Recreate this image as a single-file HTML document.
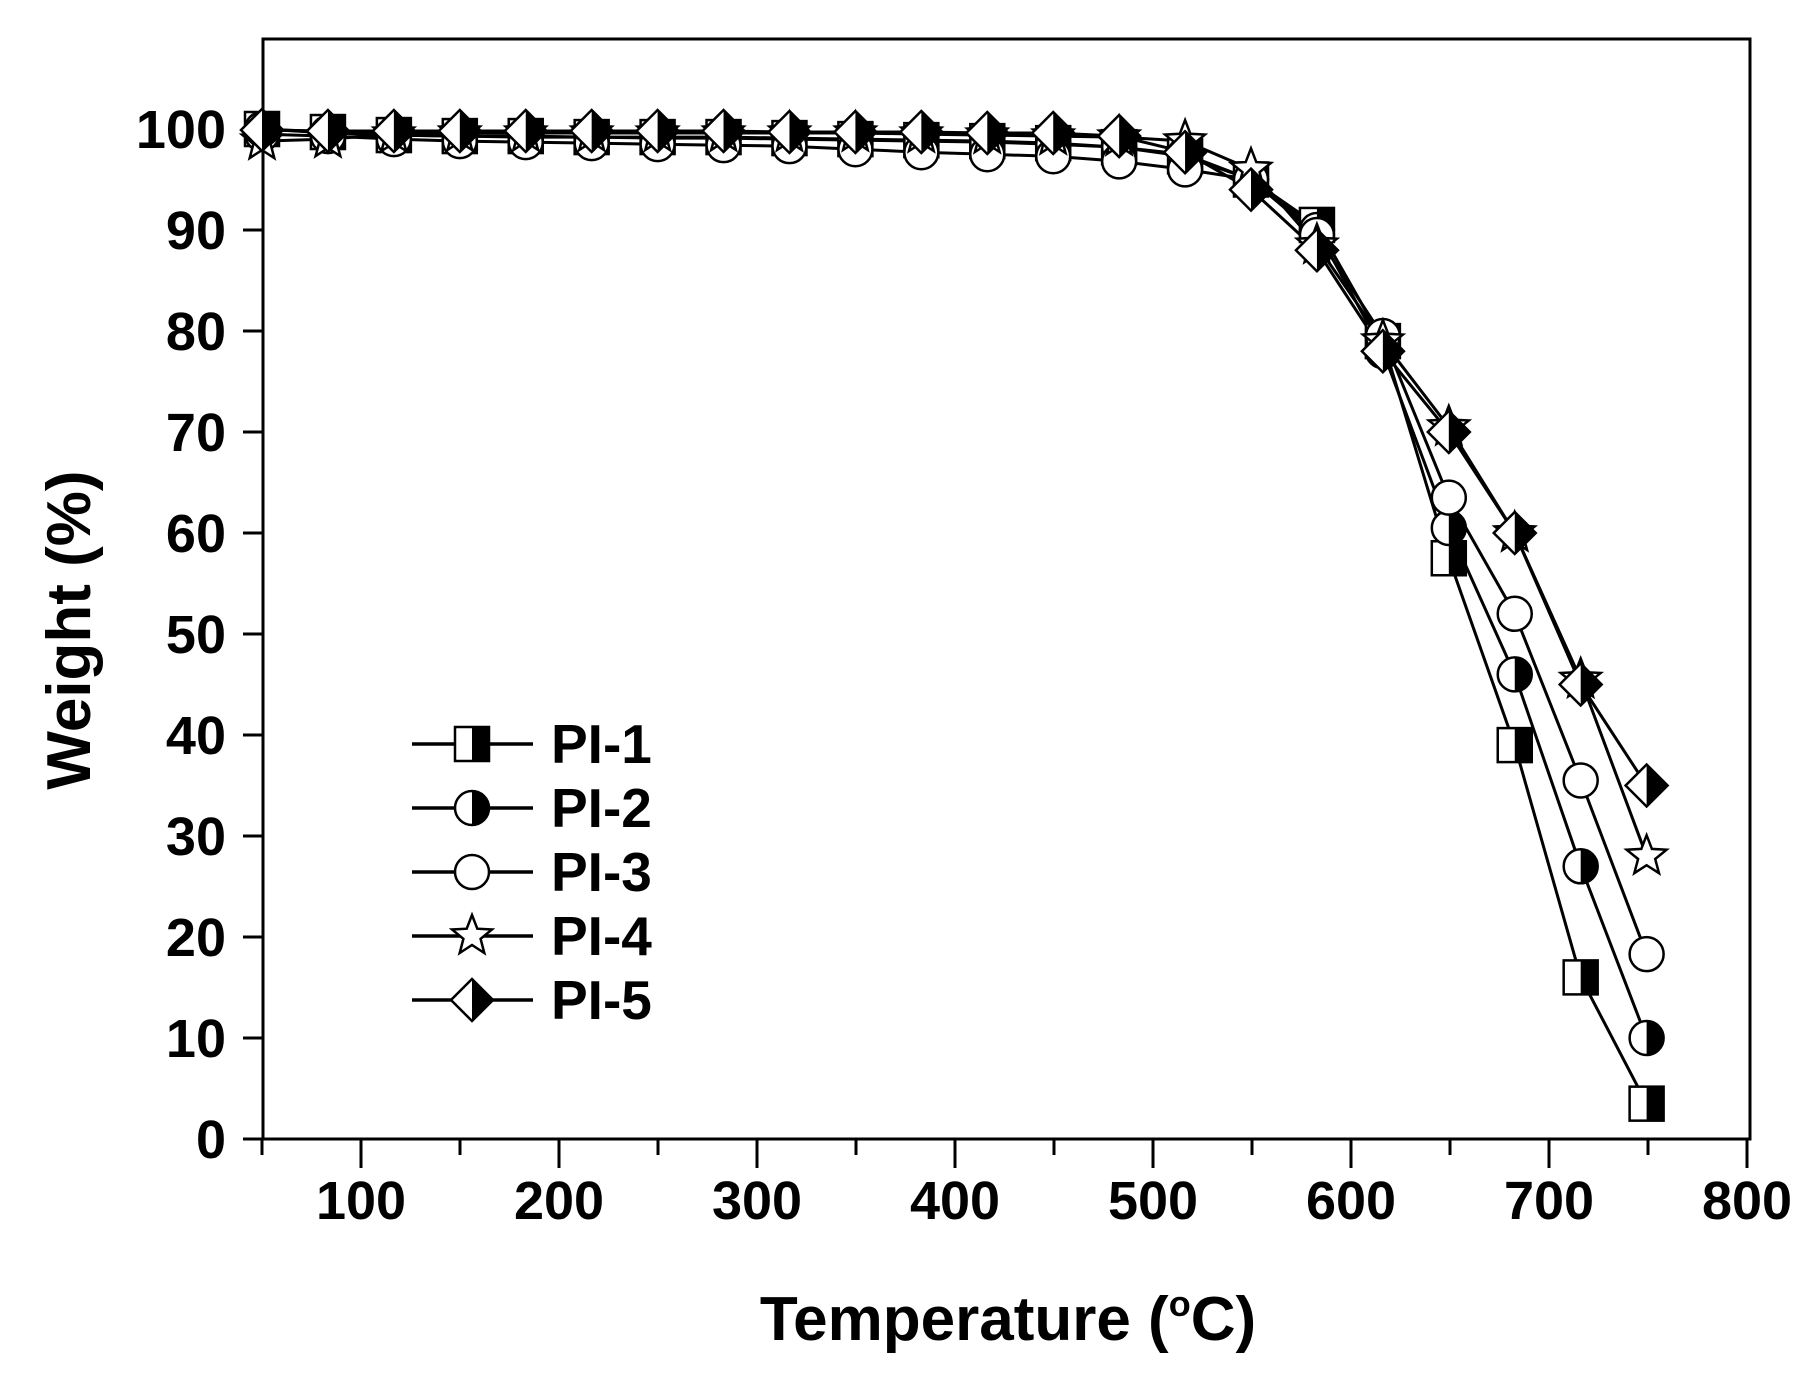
<!DOCTYPE html>
<html><head><meta charset="utf-8"><style>
html,body{margin:0;padding:0;background:#fff;}
svg{display:block;}
text{font-family:"Liberation Sans",Arial,sans-serif;font-weight:bold;fill:#000;}
</style></head><body>
<svg id="s" width="1818" height="1382" viewBox="0 0 1818 1382" xmlns="http://www.w3.org/2000/svg">
<rect x="0" y="0" width="1818" height="1382" fill="#fff"/>
<rect x="263" y="39" width="1487" height="1100" fill="none" stroke="#000" stroke-width="3"/>
<g stroke="#000" stroke-width="3" id="ticks"></g>
<g font-size="54" text-anchor="end">
<text x="226" y="148">100</text><text x="226" y="249">90</text><text x="226" y="350">80</text>
<text x="226" y="451">70</text><text x="226" y="552">60</text><text x="226" y="653">50</text>
<text x="226" y="754">40</text><text x="226" y="855">30</text><text x="226" y="956">20</text>
<text x="226" y="1057">10</text><text x="226" y="1158">0</text>
</g>
<g font-size="54" text-anchor="middle">
<text x="361" y="1219">100</text><text x="559" y="1219">200</text><text x="757" y="1219">300</text>
<text x="955" y="1219">400</text><text x="1153" y="1219">500</text><text x="1351" y="1219">600</text>
<text x="1549" y="1219">700</text><text x="1747" y="1219">800</text>
</g>
<text x="1008" y="1340" font-size="62" text-anchor="middle">Temperature (<tspan font-size="36" dy="-24">o</tspan><tspan dy="24">C)</tspan></text>
<text transform="translate(90,630) rotate(-90)" font-size="62" text-anchor="middle">Weight (%)</text>
<g id="series"></g>
<g id="legend"></g>
<g font-size="55">
<text x="551" y="763">PI-1</text><text x="551" y="827">PI-2</text><text x="551" y="891">PI-3</text>
<text x="551" y="955">PI-4</text><text x="551" y="1019">PI-5</text>
</g>
</svg>
<script>
var NS="http://www.w3.org/2000/svg";
function el(p,t,a){var e=document.createElementNS(NS,t);for(var k in a)e.setAttribute(k,a[k]);p.appendChild(e);return e;}
var tk=document.getElementById('ticks');
function X(T){return 262+(T-50)*1.98;}
function Y(W){return 1139-W*10.1;}
for(var T=50;T<=800;T+=50){var maj=T%100==0;el(tk,'line',{x1:X(T),x2:X(T),y1:1139,y2:maj?1168:1155});}
for(var W=0;W<=100;W+=10){el(tk,'line',{x1:243,x2:263,y1:Y(W),y2:Y(W)});}
var Ts=[];for(var i=0;i<22;i++)Ts.push(50+33.3*i);
var data=[
['sq',[100,99.7,99.4,99.3,99.3,99.2,99.2,99.2,99.1,99,98.9,98.8,98.6,98.2,97.3,95,90.5,79,57.5,39,16,3.5]],
['hc',[100,99.6,99.4,99.3,99.2,99.2,99.1,99.1,99,98.9,98.8,98.7,98.5,98.2,97.5,95,90,78,60.5,46,27,10]],
['c',[99.5,99.3,99,98.8,98.7,98.6,98.5,98.4,98.3,98,97.7,97.5,97.3,96.8,96,95,89.5,79.5,63.5,52,35.5,18.3]],
['st',[98.8,99,99.5,99.6,99.6,99.6,99.6,99.6,99.6,99.6,99.5,99.4,99.3,99.2,98.8,96,88.5,79,70.5,60,45.5,28]],
['d',[99.9,99.8,99.8,99.8,99.8,99.8,99.8,99.8,99.7,99.7,99.7,99.6,99.6,99.3,97.7,94,88,78,70,60,45,35]]
];
var sg=document.getElementById('series'),lg=document.getElementById('legend');
function marker(g,type,x,y){
 var r=17;
 if(type=='sq'){el(g,'rect',{x:x-r,y:y-r,width:2*r,height:2*r,fill:'#fff',stroke:'#000','stroke-width':2.5});el(g,'rect',{x:x,y:y-r,width:r,height:2*r,fill:'#000'});}
 else if(type=='hc'){el(g,'circle',{cx:x,cy:y,r:r,fill:'#fff',stroke:'#000','stroke-width':2.5});el(g,'path',{d:'M'+x+' '+(y-r)+' A'+r+' '+r+' 0 0 1 '+x+' '+(y+r)+'Z',fill:'#000'});}
 else if(type=='c'){el(g,'circle',{cx:x,cy:y,r:r,fill:'#fff',stroke:'#000','stroke-width':2.5});}
 else if(type=='st'){var p=[];for(var k=0;k<10;k++){var a=-Math.PI/2+k*Math.PI/5,rr=k%2?9:21;p.push((x+rr*Math.cos(a)).toFixed(1)+','+(y+rr*Math.sin(a)).toFixed(1));}el(g,'polygon',{points:p.join(' '),fill:'#fff',stroke:'#000','stroke-width':2.5});}
 else if(type=='d'){var R=21;el(g,'polygon',{points:(x)+','+(y-R)+' '+(x+R)+','+y+' '+x+','+(y+R)+' '+(x-R)+','+y,fill:'#fff',stroke:'#000','stroke-width':2.5});el(g,'polygon',{points:x+','+(y-R)+' '+(x+R)+','+y+' '+x+','+(y+R),fill:'#000'});}
}
data.forEach(function(s){var pts=s[1].map(function(w,i){return X(Ts[i]).toFixed(1)+','+Y(w).toFixed(1);});
 el(sg,'polyline',{points:pts.join(' '),fill:'none',stroke:'#000','stroke-width':3});});
data.forEach(function(s){s[1].forEach(function(w,i){marker(sg,s[0],X(Ts[i]),Y(w));});});
data.forEach(function(s,i){var y=744+64*i;el(lg,'line',{x1:412,x2:533,y1:y,y2:y,stroke:'#000','stroke-width':3.5});marker(lg,s[0],472,y);});
</script>
</body></html>
